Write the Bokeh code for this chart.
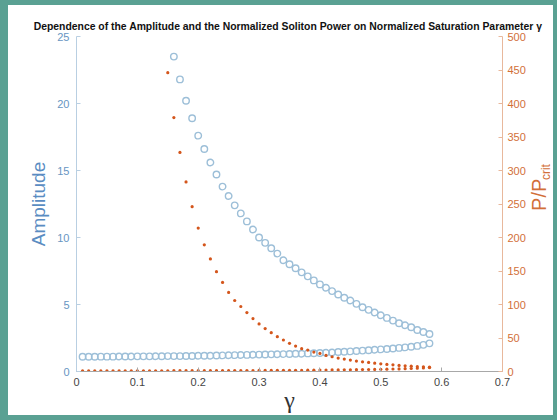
import math
from bokeh.plotting import figure
from bokeh.models import Range1d, LinearAxis, FixedTicker, NumeralTickFormatter, Label
from bokeh.layouts import column, row
from bokeh.embed import file_html
from bokeh.resources import INLINE

# ---------------- data ----------------
gamma_amp_upper = [0.16, 0.17, 0.18, 0.19, 0.20, 0.21, 0.22, 0.23, 0.24, 0.25,
                   0.26, 0.27, 0.28, 0.29, 0.30, 0.31, 0.32, 0.33, 0.34, 0.35,
                   0.36, 0.37, 0.38, 0.39, 0.40, 0.41, 0.42, 0.43, 0.44, 0.45,
                   0.46, 0.47, 0.48, 0.49, 0.50, 0.51, 0.52, 0.53, 0.54, 0.55,
                   0.56, 0.57, 0.58]
amp_upper = [23.5, 21.8, 20.2, 18.9, 17.6, 16.6, 15.6, 14.7, 13.8, 13.1,
             12.4, 11.8, 11.2, 10.6, 10.0, 9.6, 9.2, 8.8, 8.3, 8.0,
             7.7, 7.4, 7.1, 6.8, 6.5, 6.25, 6.0, 5.75, 5.5, 5.3,
             5.05, 4.8, 4.6, 4.4, 4.2, 4.0, 3.8, 3.6, 3.45, 3.3,
             3.1, 2.95, 2.8]

gamma_lower = [0.01, 0.02, 0.03, 0.04, 0.05, 0.06, 0.07, 0.08, 0.09, 0.10,
               0.11, 0.12, 0.13, 0.14, 0.15, 0.16, 0.17, 0.18, 0.19, 0.20,
               0.21, 0.22, 0.23, 0.24, 0.25, 0.26, 0.27, 0.28, 0.29, 0.30,
               0.31, 0.32, 0.33, 0.34, 0.35, 0.36, 0.37, 0.38, 0.39, 0.40,
               0.41, 0.42, 0.43, 0.44, 0.45, 0.46, 0.47, 0.48, 0.49, 0.50,
               0.51, 0.52, 0.53, 0.54, 0.55, 0.56, 0.57, 0.58]
amp_lower = [1.10, 1.10, 1.10, 1.11, 1.11, 1.11, 1.12, 1.12, 1.12, 1.13,
             1.13, 1.13, 1.14, 1.14, 1.15, 1.15, 1.15, 1.16, 1.16, 1.17,
             1.17, 1.18, 1.19, 1.20, 1.21, 1.22, 1.23, 1.24, 1.25, 1.26,
             1.27, 1.28, 1.29, 1.30, 1.31, 1.32, 1.33, 1.35, 1.36, 1.38,
             1.40, 1.42, 1.45, 1.47, 1.50, 1.53, 1.56, 1.59, 1.62, 1.65,
             1.68, 1.72, 1.76, 1.80, 1.85, 1.91, 1.99, 2.10]

gamma_pow_upper = [0.15, 0.16, 0.17, 0.18, 0.19, 0.20, 0.21, 0.22, 0.23, 0.24,
                   0.25, 0.26, 0.27, 0.28, 0.29, 0.30, 0.31, 0.32, 0.33, 0.34,
                   0.35, 0.36, 0.37, 0.38, 0.39, 0.40, 0.41, 0.42, 0.43, 0.44,
                   0.45, 0.46, 0.47, 0.48, 0.49, 0.50, 0.51, 0.52, 0.53, 0.54,
                   0.55, 0.56, 0.57, 0.58]
pow_upper = [446, 379, 327, 283, 246, 214, 189, 168, 149, 133,
             118, 106, 97, 88, 79, 71, 64, 58, 52, 47,
             42, 38, 34, 32, 29, 27, 24, 22, 20, 18.5,
             17, 15.5, 14.5, 13.5, 12.5, 11.5, 10.5, 10, 9, 8.5,
             8, 7.5, 7, 6.5]

pow_lower = [1.0, 1.0, 1.0, 1.0, 1.0, 1.05, 1.05, 1.05, 1.1, 1.1,
             1.1, 1.1, 1.15, 1.15, 1.15, 1.2, 1.2, 1.2, 1.25, 1.25,
             1.3, 1.3, 1.35, 1.35, 1.4, 1.4, 1.45, 1.5, 1.5, 1.55,
             1.6, 1.65, 1.7, 1.75, 1.8, 1.85, 1.9, 2.0, 2.05, 2.1,
             2.2, 2.3, 2.4, 2.5, 2.6, 2.7, 2.8, 3.0, 3.1, 3.3,
             3.5, 3.7, 3.9, 4.2, 4.5, 4.9, 5.3, 5.8]

x_ticks = [0, 0.1, 0.2, 0.3, 0.4, 0.5, 0.6, 0.7]
amp_ticks = [0, 5, 10, 15, 20, 25]
pow_ticks = [0, 50, 100, 150, 200, 250, 300, 350, 400, 450, 500]

title_text = ("Dependence of the Amplitude and the Normalized Soliton Power "
              "on Normalized Saturation Parameter \u03b3")
right_label_main = "P/P"
right_label_sub = "crit"

# ---------------- styling ----------------
BLUE_MARK = "#9dbfd8"
BLUE_TXT = "#6795c2"
BLUE_LABEL = "#5a8cc2"
ORANGE = "#d4561c"
ORANGE_TXT = "#d26f38"
FONT = "Liberation Sans"


def strip(width, height):
    f = figure(width=width, height=height,
               x_range=Range1d(0, width), y_range=Range1d(0, height),
               output_backend="svg", toolbar_location=None,
               x_axis_location=None, y_axis_location=None,
               min_border=0, min_border_left=0, min_border_right=0,
               min_border_top=0, min_border_bottom=0)
    f.outline_line_color = None
    f.xgrid.grid_line_color = None
    f.ygrid.grid_line_color = None
    f.background_fill_color = "white"
    f.border_fill_color = "white"
    return f


# ---------------- title strip ----------------
top = strip(545, 27)
top.add_layout(Label(x=279.5, y=6, text=title_text,
                     text_font=FONT, text_font_style="bold", text_font_size="10.4px",
                     text_color="#111111", text_align="center", text_baseline="middle"))

# ---------------- main plot ----------------
p = figure(width=520, height=383,
           x_range=Range1d(0, 0.7), y_range=Range1d(0, 25),
           output_backend="svg", toolbar_location=None,
           min_border_left=68, min_border_right=26,
           min_border_top=4, min_border_bottom=43)
p.extra_y_ranges = {"pw": Range1d(0, 500)}
p.outline_line_color = None
p.xgrid.grid_line_color = None
p.ygrid.grid_line_color = None
p.background_fill_color = "white"
p.border_fill_color = "white"

# bottom axis
xa = p.xaxis[0]
xa.ticker = FixedTicker(ticks=x_ticks)
xa.formatter = NumeralTickFormatter(format="0.[0]")
xa.major_tick_in = 4
xa.major_tick_out = 0
xa.minor_tick_line_color = None
xa.axis_line_color = "#a8a8a8"
xa.major_tick_line_color = "#a8a8a8"
xa.major_label_text_color = "#454545"
xa.major_label_text_font = FONT
xa.major_label_text_font_size = "11px"
xa.major_label_standoff = 6
xa.axis_label = "\u03b3"
xa.axis_label_text_font = "Liberation Serif"
xa.axis_label_text_font_style = "normal"
xa.axis_label_text_font_size = "24px"
xa.axis_label_text_color = "#333333"
xa.axis_label_standoff = -2
xa.axis_label_text_line_height = 1.0

# left axis
ya = p.yaxis[0]
ya.ticker = FixedTicker(ticks=amp_ticks)
ya.major_tick_in = 4
ya.major_tick_out = 0
ya.minor_tick_line_color = None
ya.axis_line_color = "#b9cfe2"
ya.major_tick_line_color = "#b9cfe2"
ya.major_label_text_color = BLUE_TXT
ya.major_label_text_font = FONT
ya.major_label_text_font_size = "11px"
ya.major_label_standoff = 7
ya.axis_label = "Amplitude"
ya.axis_label_text_font = FONT
ya.axis_label_text_font_style = "normal"
ya.axis_label_text_font_size = "19px"
ya.axis_label_text_color = BLUE_LABEL
ya.axis_label_standoff = 5

# right axis (ticks)
ra = LinearAxis(y_range_name="pw")
ra.ticker = FixedTicker(ticks=pow_ticks)
ra.major_tick_in = 4
ra.major_tick_out = 0
ra.minor_tick_line_color = None
ra.axis_line_color = "#e8b89c"
ra.major_tick_line_color = "#e8b89c"
ra.major_label_text_color = ORANGE_TXT
ra.major_label_text_font = FONT
ra.major_label_text_font_size = "11px"
ra.major_label_standoff = 5
p.add_layout(ra, "right")

# glyphs
p.scatter(gamma_lower, amp_lower, marker="circle", size=6.5,
          fill_color=None, line_color=BLUE_MARK, line_width=1.4)
p.scatter(gamma_amp_upper, amp_upper, marker="circle", size=6.5,
          fill_color=None, line_color=BLUE_MARK, line_width=1.4)
p.scatter(gamma_lower, pow_lower, marker="circle", size=3.2,
          fill_color=ORANGE, line_color=None, y_range_name="pw")
p.scatter(gamma_pow_upper, pow_upper, marker="circle", size=3.2,
          fill_color=ORANGE, line_color=None, y_range_name="pw")

# ---------------- right strip with rotated label P/P_crit ----------------
side = strip(25, 383)
side.add_layout(Label(x=10, y=202, text=right_label_main, angle=math.pi / 2,
                      text_font=FONT, text_font_size="20px", text_color=ORANGE_TXT,
                      text_align="center", text_baseline="middle"))
side.add_layout(Label(x=17, y=228, text=right_label_sub, angle=math.pi / 2,
                      text_font=FONT, text_font_size="12px", text_color=ORANGE_TXT,
                      text_align="center", text_baseline="middle"))

layout = column(top, row(p, side, spacing=0, styles={"background-color": "white"}),
                spacing=0,
                styles={"background-color": "white",
                        "border-style": "solid",
                        "border-color": "#5aa193",
                        "border-width": "5px 4px 5px 8px"})

open("out.html", "w").write(file_html(layout, INLINE))
